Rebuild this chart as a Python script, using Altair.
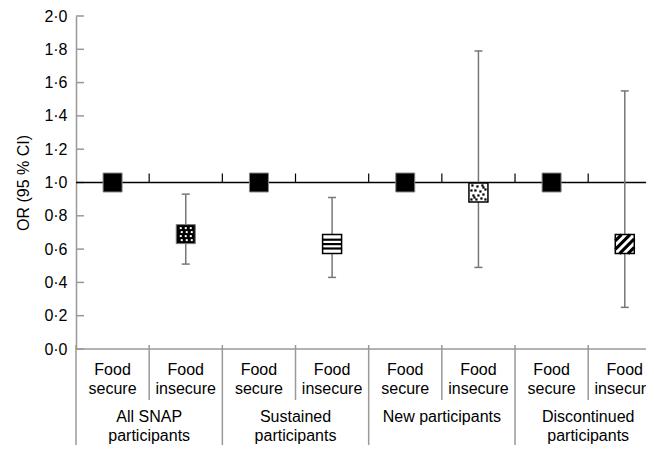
import altair as alt
import pandas as pd

# ---------------- data ----------------
groups = ["All SNAP participants", "Sustained participants", "New participants", "Discontinued participants"]
group_line_1 = ["All SNAP", "Sustained", "New participants", "Discontinued"]
group_line_2 = ["participants", "participants", "", "participants"]
statuses = ["Food secure", "Food insecure"]
status_line_1 = ["Food", "Food"]
status_line_2 = ["secure", "insecure"]
odds_ratio = [1.00, 0.69, 1.00, 0.63, 1.00, 0.94, 1.00, 0.63]
ci_lower = [None, 0.51, None, 0.43, None, 0.49, None, 0.25]
ci_upper = [None, 0.93, None, 0.91, None, 1.79, None, 1.55]
patterns = ["solid", "dark_dots", "solid", "hstripes", "solid", "light_dots", "solid", "diagonal"]
y_ticks = [0.0, 0.2, 0.4, 0.6, 0.8, 1.0, 1.2, 1.4, 1.6, 1.8, 2.0]
reference_or = 1.0

# ---------------- tables ----------------
rows = []
for gi, g in enumerate(groups):
    for si, s in enumerate(statuses):
        i = gi * 2 + si
        rows.append(dict(idx=i, xc=i + 0.5, group=g, status=s, OR=odds_ratio[i],
                         lo=ci_lower[i] if ci_lower[i] is not None else -1.0,
                         hi=ci_upper[i] if ci_upper[i] is not None else -1.0,
                         pattern=patterns[i],
                         l1=status_line_1[si], l2=status_line_2[si]))
df = pd.DataFrame(rows)

gdf = pd.DataFrame({"gx": [gi * 2 + 1 for gi in range(len(groups))],
                    "l1": group_line_1, "l2": group_line_2})
n_slots = len(groups) * len(statuses)
bdf = pd.DataFrame({"b": list(range(n_slots + 1)),
                    "long": [1 if b % 2 == 0 else 0 for b in range(n_slots + 1)],
                    "ref": [reference_or] * (n_slots + 1)})
tdf = pd.DataFrame({"v": y_ticks})

# ---------------- layout ----------------
FONT = "Liberation Sans"
SLOT_PX = 73.17
W, H = 570, 333
PAD_L, PAD_T, PAD_B = 68, 8, 96
XMAX = W / SLOT_PX
GRAY = "#999999"

xs = alt.Scale(domain=[0, XMAX], nice=False, zero=False)
ys = alt.Scale(domain=[0, 2], nice=False, zero=True)

y_axis = alt.Axis(values=y_ticks,
                  labelExpr="replace(format(datum.value, '.1f'), '.', '·')",
                  domainColor=GRAY, domainWidth=1.5, ticks=False, grid=False,
                  labelFont=FONT, labelFontSize=16, labelColor="black", labelPadding=9,
                  title="OR (95 % CI)", titleFont=FONT, titleFontSize=16,
                  titleFontWeight="normal", titleColor="black", titlePadding=12)


def XF(f):
    return alt.X(f, scale=xs, axis=None)


def YF(f):
    return alt.Y(f, scale=ys, axis=y_axis)


X = XF("xc:Q")
Y = YF("OR:Q")

base = alt.Chart(df)

# inward y ticks
yticks = alt.Chart(tdf).mark_rule(color=GRAY, strokeWidth=1.5, x2Offset=8).encode(
    x=alt.value(0), x2=alt.value(0), y=YF("v:Q"))

zero_line = alt.Chart(tdf).transform_filter("datum.v == 0").mark_rule(color=GRAY, strokeWidth=1.5).encode(
    x=alt.value(0), x2=alt.value(W), y=YF("v:Q"))
one_line = alt.Chart(tdf).transform_filter("datum.v == 1").mark_rule(color="black", strokeWidth=1.5).encode(
    x=alt.value(0), x2=alt.value(W), y=YF("v:Q"))

one_ticks = alt.Chart(bdf).transform_filter("datum.b > 0").mark_rule(
    color="black", strokeWidth=1.2, y2Offset=-9).encode(
    x=XF("b:Q"), y=YF("ref:Q"), y2="ref:Q")

# category separators below the plot
seps_short = alt.Chart(bdf).transform_filter("datum.long == 0").mark_rule(color=GRAY, strokeWidth=1.5).encode(
    x=XF("b:Q"), y=alt.value(H - 4), y2=alt.value(H + 51))
seps_long = alt.Chart(bdf).transform_filter("datum.long == 1").mark_rule(color=GRAY, strokeWidth=1.5).encode(
    x=XF("b:Q"), y=alt.value(H - 4), y2=alt.value(H + 99))

# error bars
ci = base.transform_filter("datum.lo >= 0")
err = ci.mark_rule(color="#777777", strokeWidth=1.5).encode(
    x=X, y=YF("lo:Q"), y2="hi:Q")
cap_lo = ci.mark_rule(color="#777777", strokeWidth=1.5, xOffset=-4, x2Offset=4).encode(
    x=X, x2="xc:Q", y=YF("lo:Q"), y2="lo:Q")
cap_hi = ci.mark_rule(color="#777777", strokeWidth=1.5, xOffset=-4, x2Offset=4).encode(
    x=X, x2="xc:Q", y=YF("hi:Q"), y2="hi:Q")

# markers
SQ = 361


def sel(p):
    return base.transform_filter("datum.pattern == '%s'" % p)


m_solid = sel("solid").mark_point(shape="square", filled=True, size=SQ, fill="black",
                                   stroke="#888888", strokeWidth=1, opacity=1).encode(x=X, y=Y)
m_dark = sel("dark_dots").mark_point(shape="square", filled=True, size=SQ, fill="black",
                                      stroke="#777777", strokeWidth=1, opacity=1).encode(x=X, y=Y)
white_boxes = base.transform_filter(
    "datum.pattern == 'hstripes' || datum.pattern == 'light_dots' || datum.pattern == 'diagonal'"
).mark_point(shape="square", filled=True, size=SQ, fill="white", stroke="black",
             strokeWidth=1.5, opacity=1).encode(x=X, y=Y)

layers = [yticks, zero_line, one_line, one_ticks, err, cap_lo, cap_hi, m_solid, m_dark, white_boxes]

# dark dots pattern: white dots on black
for dx in (-5, 0, 5):
    for dy in (-6, -2, 2, 6):
        layers.append(sel("dark_dots").mark_point(shape="square", filled=True, size=4, fill="white",
                                                   strokeWidth=0, opacity=1,
                                                   xOffset=dx + (1 if dy in (-2, 6) else 0),
                                                   yOffset=dy).encode(x=X, y=Y))

# horizontal stripes
for dy in (-4.4, 0, 4.4):
    layers.append(sel("hstripes").mark_rule(color="black", strokeWidth=2.2, xOffset=-9.5, x2Offset=9.5,
                                             yOffset=dy, y2Offset=dy).encode(
        x=X, x2="xc:Q", y=Y, y2="OR:Q"))

# light dots: scattered black dots on white
light_offsets = [(-6, -7), (-1, -6), (4, -7), (7, -3), (-7, -2), (-3, -2), (2, -1), (-5, 3),
                 (0, 3), (5, 2), (-7, 7), (-2, 7), (3, 6), (7, 7), (5, -5), (-4, 5)]
for dx, dy in light_offsets:
    layers.append(sel("light_dots").mark_point(shape="square", filled=True, size=5, fill="black",
                                                strokeWidth=0, opacity=1,
                                                xOffset=dx, yOffset=dy).encode(x=X, y=Y))

# diagonal stripes ("/")
h = 9.5
for c in (-12.75, -4.25, 4.25, 12.75):
    if c >= 0:
        x1, y1, x2, y2 = c - h, h, h, c - h
    else:
        x1, y1, x2, y2 = -h, c + h, c + h, -h
    layers.append(sel("diagonal").mark_rule(color="black", strokeWidth=3, xOffset=x1, yOffset=y1,
                                             x2Offset=x2, y2Offset=y2).encode(
        x=X, x2="xc:Q", y=Y, y2="OR:Q"))

# labels
txt = dict(font=FONT, fontSize=16, color="black", align="center", baseline="middle")
lab1 = base.mark_text(**txt).encode(x=X, y=alt.value(H + 21), text="l1:N")
lab2 = base.mark_text(**txt).encode(x=X, y=alt.value(H + 40), text="l2:N")
g1 = alt.Chart(gdf).mark_text(**txt).encode(x=XF("gx:Q"), y=alt.value(H + 68), text="l1:N")
g2 = alt.Chart(gdf).mark_text(**txt).encode(x=XF("gx:Q"), y=alt.value(H + 87), text="l2:N")

layers += [seps_short, seps_long, lab1, lab2, g1, g2]

chart = alt.layer(*layers).properties(
    width=W, height=H,
    autosize=alt.AutoSizeParams(type="none"),
    padding={"left": PAD_L, "top": PAD_T, "right": 0, "bottom": PAD_B},
).configure_view(stroke=None)

chart.save("out.html", embed_options={"renderer": "svg", "actions": False})
